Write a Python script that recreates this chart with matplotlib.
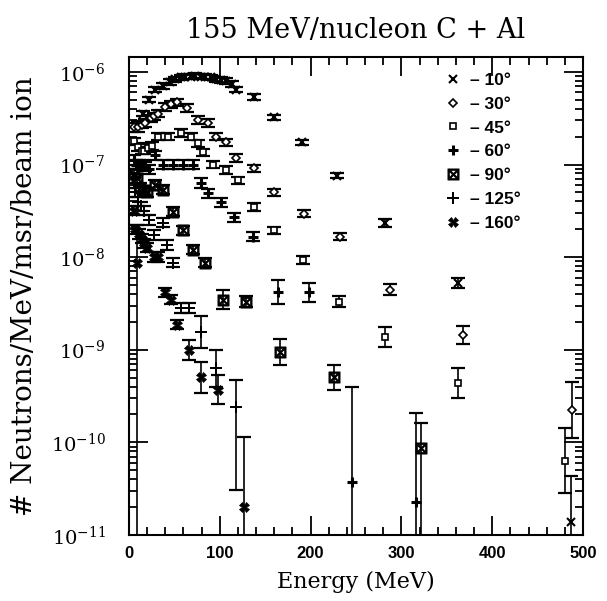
import numpy as np
import matplotlib
matplotlib.use("Agg")
import matplotlib.pyplot as plt
from matplotlib.lines import Line2D
from matplotlib.ticker import MultipleLocator, FixedLocator, NullFormatter

plt.rcParams['mathtext.fontset'] = 'dejavuserif'

# energies (MeV) and log10 of yield, per angle
E10 = [15, 22, 29, 38, 45, 51, 57, 62, 68, 73, 79, 84, 90, 96, 101, 107, 113, 118, 138, 160, 190, 229, 282, 362, 487]
L10 = [-6.45, -6.30, -6.19, -6.15, -6.11, -6.08, -6.06, -6.05, -6.05, -6.04, -6.05, -6.05, -6.06, -6.08, -6.09,
       -6.10, -6.13, -6.19, -6.27, -6.49, -6.76, -7.12, -7.63, -8.28, -10.86]
lo10 = [0.03] * 22 + [0.04, 0.05, 1.0]
hi10 = [0.03] * 22 + [0.04, 0.05, 0.5]

E30 = [6, 10, 14, 18, 24, 28, 32, 40, 46, 53, 64, 76, 87, 96, 107, 118, 138, 160, 193, 232, 287, 368, 488]
L30 = [-6.60, -6.59, -6.57, -6.55, -6.50, -6.48, -6.45, -6.38, -6.35, -6.33, -6.39, -6.52, -6.55, -6.70, -6.76,
       -6.93, -7.04, -7.30, -7.53, -7.78, -8.35, -8.84, -9.65]
lo30 = [0.05, 0.06] + [0.04] * 18 + [0.06, 0.10, 0.30]
hi30 = [0.05, 0.06] + [0.04] * 18 + [0.06, 0.10, 0.30]

E45 = [6, 10, 14, 17, 21, 25, 32, 43, 57, 68, 76, 82, 93, 107, 120, 138, 160, 192, 231, 282, 362, 480]
L45 = [-6.75, -6.81, -6.85, -6.85, -6.82, -6.80, -6.70, -6.70, -6.66, -6.70, -6.77, -6.87, -7.00, -7.06, -7.17,
       -7.46, -7.71, -8.03, -8.48, -8.86, -9.36, -10.20]
lo45 = [0.04] * 18 + [0.06, 0.11, 0.16, 0.35]
hi45 = [0.04] * 18 + [0.06, 0.11, 0.16, 0.35]

E60 = [5, 8, 11, 14, 18, 22, 29, 38, 48, 59, 70, 79, 87, 101, 116, 137, 164, 198, 246, 316]
L60 = [-6.95, -7.00, -7.00, -7.00, -7.02, -7.05, -6.90, -7.00, -7.00, -7.00, -7.00, -7.20, -7.31, -7.41, -7.57,
       -7.78, -8.38, -8.38, -10.43, -10.64]
lo60 = [0.05] * 16 + [0.13, 0.10, 1.0, 1.0]
hi60 = [0.05] * 16 + [0.13, 0.10, 1.03, 0.96]

E90 = [6, 9, 12, 16, 20, 29, 38, 48, 59, 71, 84, 104, 129, 166, 226, 322]
L90 = [-7.10, -7.15, -7.25, -7.28, -7.30, -7.22, -7.27, -7.51, -7.71, -7.92, -8.06, -8.46, -8.48, -9.02, -9.30,
       -10.06]
lo90 = [0.05] * 11 + [0.10, 0.06, 0.14, 0.13, 1.0]
hi90 = [0.05] * 11 + [0.10, 0.06, 0.14, 0.13, 0.27]

E125 = [5, 7, 10, 13, 16, 22, 27, 38, 42, 49, 57, 66, 79, 96, 118]
L125 = [-7.20, -7.30, -7.40, -7.45, -7.50, -7.60, -7.76, -7.63, -7.87, -8.06, -8.55, -8.55, -8.81, -9.20, -9.62]
lo125 = [0.05] * 12 + [0.17, 0.20, 0.89]
hi125 = [0.05] * 12 + [0.17, 0.20, 0.29]

E160 = [5, 7, 9, 11, 14, 17, 20, 27, 32, 40, 46, 53, 66, 79, 98, 127]
L160 = [-7.50, -7.70, -8.06, -7.75, -7.80, -7.85, -7.90, -8.00, -8.00, -8.38, -8.46, -8.73, -9.00, -9.30, -9.43,
        -10.70]
lo160 = [0.05, 0.05, 3.0] + [0.05] * 9 + [0.11, 0.17, 0.16, 1.0]
hi160 = [0.05, 0.05, 0.41] + [0.05] * 9 + [0.11, 0.17, 0.16, 0.76]

angles = ['10°', '30°', '45°', '60°', '90°', '125°', '160°']
series = [(E10, L10, lo10, hi10), (E30, L30, lo30, hi30), (E45, L45, lo45, hi45),
          (E60, L60, lo60, hi60), (E90, L90, lo90, hi90), (E125, L125, lo125, hi125),
          (E160, L160, lo160, hi160)]
styles = [dict(marker='x', ms=6, mew=1.5, mfc='k'),
          dict(marker='D', ms=4, mew=1.2, mfc='white'),
          dict(marker='s', ms=5, mew=1.2, mfc='white'),
          dict(marker='+', ms=7, mew=2.2, mfc='k'),
          dict(marker=r'$\boxtimes$', ms=8, mew=0.6, mfc='k'),
          dict(marker=(4, 2, 0), ms=8, mew=1.4, mfc='k'),
          dict(marker='X', ms=7, mew=0.5, mfc='k')]

decades = [-11, -10, -9, -8, -7, -6]

fig = plt.figure(figsize=(6.07, 6.01), dpi=100)
ax = fig.add_axes([0.2125, 0.11, 0.748, 0.795])

for (E, L, lo, hi), st in zip(series, styles):
    E = np.array(E, dtype=float)
    L = np.array(L)
    y = 10 ** L
    ylo = y - 10 ** (L - np.array(lo))
    yhi = 10 ** (L + np.array(hi)) - y
    ax.errorbar(E, y, yerr=[ylo, yhi], fmt='none', ecolor='k', elinewidth=1.2,
                capsize=5, capthick=1.6)
    ax.plot(E, y, linestyle='none', color='k', **st)

ax.set_yscale('log')
ax.set_xlim(0, 500)
ax.set_ylim(1e-11, 10 ** -5.84)

ax.xaxis.set_major_locator(MultipleLocator(100))
ax.xaxis.set_minor_locator(MultipleLocator(20))
ax.yaxis.set_major_locator(FixedLocator([10.0 ** d for d in decades]))
ax.set_yticklabels([r'$10^{%d}$' % d for d in decades])
ax.yaxis.set_minor_locator(FixedLocator([k * 10.0 ** d for d in decades[:-1] for k in range(2, 10)]))
ax.yaxis.set_minor_formatter(NullFormatter())
ax.tick_params(which='both', direction='in', top=True, right=True, width=1.3)
ax.tick_params(which='major', length=14)
ax.tick_params(which='minor', length=5.5)
ax.tick_params(axis='x', which='major', pad=8, labelsize=12)
ax.tick_params(axis='y', which='major', pad=17, labelsize=14)
for lab in ax.get_xticklabels():
    lab.set_fontweight('bold')
    lab.set_family('Liberation Sans')
for sp in ax.spines.values():
    sp.set_linewidth(1.5)

ax.set_title('155 MeV/nucleon C + Al', fontsize=19.5, family='DejaVu Serif', pad=14)
ax.set_xlabel('Energy (MeV)', fontsize=16, family='DejaVu Serif')
ax.xaxis.set_label_coords(0.5, -0.075)
ax.set_ylabel('# Neutrons/MeV/msr/beam ion', fontsize=20, family='DejaVu Serif')
ax.yaxis.set_label_coords(-0.2, 0.5)

handles = [Line2D([], [], linestyle='none', color='k', **st) for st in styles]
ax.legend(handles, ['– ' + a for a in angles], loc='upper left', bbox_to_anchor=(0.66, 1.0),
          frameon=False, handlelength=1.0, handletextpad=0.5, labelspacing=0.5,
          prop={'family': 'Liberation Sans', 'weight': 'bold', 'size': 12.5})

fig.savefig('out.png', dpi=100)
